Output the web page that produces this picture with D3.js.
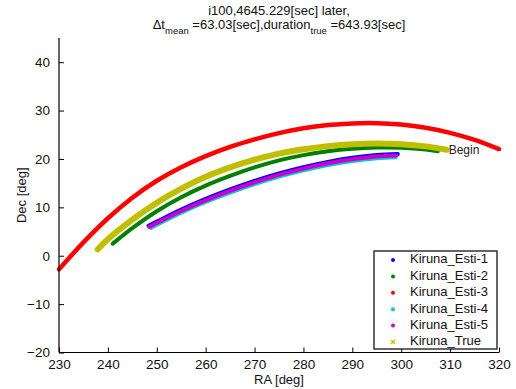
<!DOCTYPE html>
<html>
<head>
<meta charset="utf-8">
<script src="https://cdn.jsdelivr.net/npm/d3@7"></script>
<style>
  html, body { margin: 0; padding: 0; background: #fff; }
  svg { display: block; font-family: "Liberation Sans", Arial, sans-serif; }
</style>
</head>
<body>
<svg id="chart" width="516" height="389"></svg>
<script>
// Trajectory tracks in sky coordinates: [RA deg, Dec deg]
const esti1 = [[248.3,6.2],[250,7.05],[255,9.55],[260,11.75],[265,13.7],[270,15.45],[275,17.0],[280,18.3],[285,19.4],[290,20.25],[295,20.8],[299.3,21.0]];
const esti2 = [[241.0,2.5],[245,5.7],[250,9.2],[255,12.1],[260,14.5],[265,16.5],[270,18.25],[275,19.7],[280,20.8],[285,21.6],[290,22.1],[295,22.35],[300,22.3],[305,21.95],[307.5,21.6]];
const esti3 = [[230,-2.8],[235,2.75],[240,7.75],[245,12.0],[250,15.5],[255,18.3],[260,20.6],[265,22.5],[270,24.05],[275,25.35],[280,26.35],[285,27.0],[290,27.35],[295,27.4],[300,27.1],[305,26.45],[310,25.4],[315,23.95],[320,22.05]];
const esti4 = [[248.8,5.75],[250,6.4],[255,8.9],[260,11.1],[265,13.05],[270,14.8],[275,16.35],[280,17.65],[285,18.75],[290,19.6],[295,20.15],[298.8,20.35]];
const esti5 = [[248.5,5.95],[250,6.75],[255,9.25],[260,11.45],[265,13.4],[270,15.15],[275,16.7],[280,18.0],[285,19.1],[290,19.95],[295,20.5],[299.0,20.7]];
const truth = [[237.9,1.3],[240,3.4],[245,7.45],[250,10.95],[255,13.85],[260,16.3],[265,18.25],[270,19.85],[275,21.1],[280,22.0],[285,22.65],[290,23.05],[295,23.2],[300,23.05],[305,22.6],[309.3,21.9]];

const seriesNames = ["Kiruna_Esti-1","Kiruna_Esti-2","Kiruna_Esti-3","Kiruna_Esti-4","Kiruna_Esti-5","Kiruna_True"];
const seriesData = [esti1, esti2, esti3, esti4, esti5, truth];
const seriesColors = ["#0000ff","#008000","#ff0000","#00cccc","#cc00cc","#bfbf00"];
const seriesWidths = [4, 4, 4.5, 4, 4, 6];

const xTicks = [230,240,250,260,270,280,290,300,310,320];
const yTicks = [-20,-10,0,10,20,30,40];
const xDomain = [230, 320];
const yDomain = [-20, 45];

const titleLine1 = "i100,4645.229[sec] later,";
const beginLabel = "Begin";

const svg = d3.select("#chart");
const plot = { left: 59, right: 499, top: 38, bottom: 352.5 };

const x = d3.scaleLinear().domain(xDomain).range([plot.left, plot.right]);
const y = d3.scaleLinear().domain(yDomain).range([plot.bottom, plot.top]);

// Tracks
const line = d3.line().x(d => x(d[0])).y(d => y(d[1])).curve(d3.curveCatmullRom.alpha(0.5));
seriesData.forEach((data, i) => {
  svg.append("path")
    .attr("d", line(data))
    .attr("fill", "none")
    .attr("stroke", seriesColors[i])
    .attr("stroke-width", seriesWidths[i])
    .attr("stroke-linecap", "round")
    .attr("stroke-linejoin", "round");
});

// Label at the start of the true track
const beginPt = truth[truth.length - 1];
svg.append("text")
  .attr("x", x(beginPt[0]) + 2)
  .attr("y", y(beginPt[1]) + 1.5)
  .attr("dominant-baseline", "middle")
  .attr("font-size", 12)
  .attr("fill", "#222")
  .text(beginLabel);

// Axes with inward ticks
const xAxis = d3.axisBottom(x).tickValues(xTicks).tickSize(-5).tickPadding(9).tickFormat(d3.format("d"));
const yAxis = d3.axisLeft(y).tickValues(yTicks).tickSize(-5).tickPadding(9).tickFormat(d => d < 0 ? "\u2212" + Math.abs(d) : d);

const gx = svg.append("g").attr("transform", `translate(0,${plot.bottom})`).call(xAxis);
const gy = svg.append("g").attr("transform", `translate(${plot.left},0)`).call(yAxis);
[gx, gy].forEach(g => {
  g.select(".domain").attr("stroke", "#000").attr("stroke-width", 1.2);
  g.selectAll(".tick line").attr("stroke", "#000");
  g.selectAll(".tick text").attr("font-size", 13.5).attr("fill", "#111")
    .attr("font-family", "'Liberation Sans', Arial, sans-serif");
});
gx.select(".domain").attr("d", `M${plot.left},0H${plot.right}`);
gy.select(".domain").attr("d", `M0,${plot.top}V${plot.bottom}`);
gx.selectAll(".tick text").attr("dy", "0.55em");

// Axis titles
svg.append("text")
  .attr("x", (plot.left + plot.right) / 2).attr("y", 384)
  .attr("text-anchor", "middle").attr("font-size", 13).attr("fill", "#111")
  .text("RA [deg]");
svg.append("text")
  .attr("transform", `translate(26,${(plot.top + plot.bottom) / 2}) rotate(-90)`)
  .attr("text-anchor", "middle").attr("font-size", 13).attr("fill", "#111")
  .text("Dec [deg]");

// Two-line title with subscripts
const cx = (plot.left + plot.right) / 2;
svg.append("text")
  .attr("x", cx).attr("y", 15)
  .attr("text-anchor", "middle").attr("font-size", 13).attr("fill", "#111")
  .text(titleLine1);
const t2 = svg.append("text")
  .attr("x", cx).attr("y", 29)
  .attr("text-anchor", "middle").attr("font-size", 13).attr("fill", "#111");
t2.append("tspan").text("\u0394t");
t2.append("tspan").attr("font-size", 9.5).attr("dy", 5).text("mean");
t2.append("tspan").attr("dy", -5).text(" =63.03[sec],duration");
t2.append("tspan").attr("font-size", 9.5).attr("dy", 5).text("true");
t2.append("tspan").attr("dy", -5).text(" =643.93[sec]");

// Legend
const leg = { x: 374, y: 251, w: 123, h: 98, row0: 260, step: 16.4 };
svg.append("rect")
  .attr("x", leg.x).attr("y", leg.y).attr("width", leg.w).attr("height", leg.h)
  .attr("fill", "#fff").attr("stroke", "#000").attr("stroke-width", 1.2);
seriesNames.forEach((name, i) => {
  const ry = leg.row0 + i * leg.step;
  if (i < 5) {
    svg.append("circle").attr("cx", 393).attr("cy", ry).attr("r", 2).attr("fill", seriesColors[i]);
  } else {
    svg.append("path").attr("d", `M391,${ry - 2}L395,${ry + 2}M395,${ry - 2}L391,${ry + 2}`)
      .attr("stroke", seriesColors[i]).attr("stroke-width", 1.3);
  }
  svg.append("text")
    .attr("x", 410).attr("y", ry).attr("dominant-baseline", "middle")
    .attr("font-size", 13).attr("fill", "#111")
    .text(name);
});
</script>
</body>
</html>
